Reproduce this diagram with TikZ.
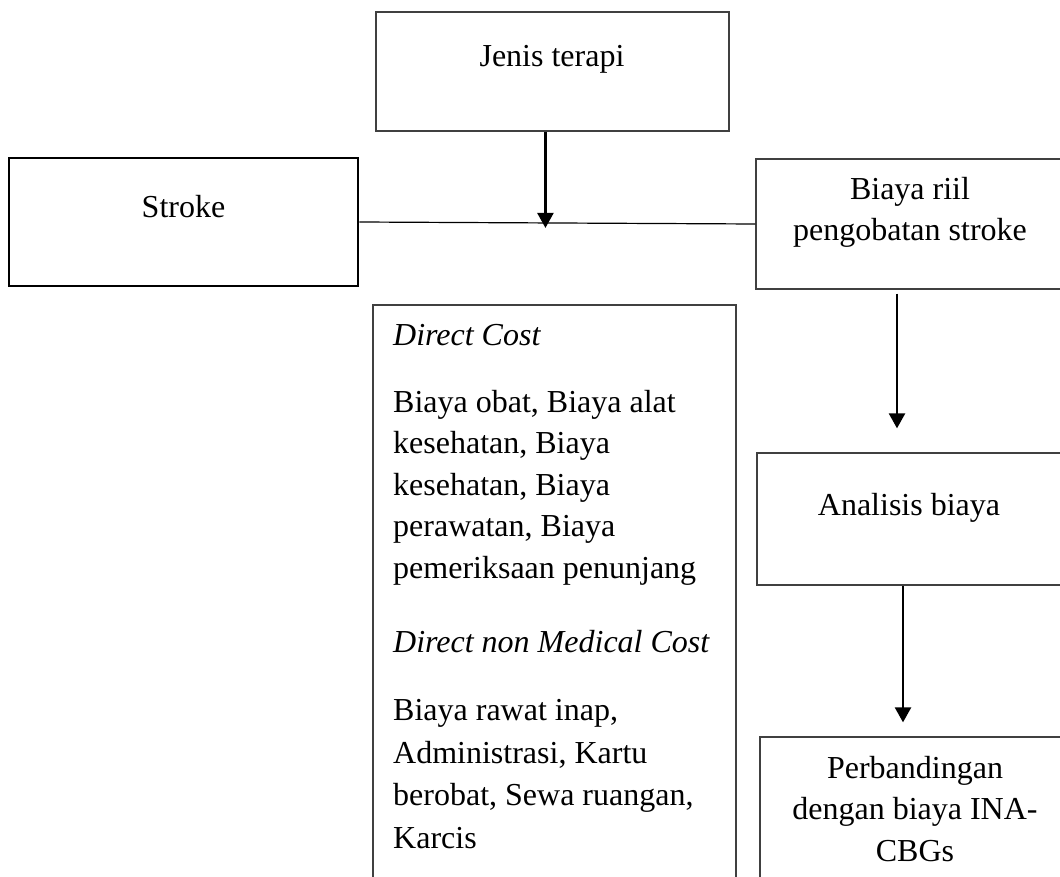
\documentclass[tikz,border=0pt]{standalone}
\usepackage{fontspec}
\setmainfont{Liberation Serif}
\usetikzlibrary{positioning, arrows.meta, calc}

\begin{document}
\begin{tikzpicture}[x=1pt, y=-1pt, >={Triangle[width=16pt,length=15pt]},
    box/.style={draw=black!75, line width=1.3pt, inner sep=0pt},
    txt/.style={font=\fontsize{32}{41.5}\selectfont, inner sep=0pt},
    arr/.style={->, line width=2.4pt}]
  \useasboundingbox (0,0) rectangle (1060,877);
  \clip (0,0) rectangle (1060,877);

  % kotak
  \node[box, draw=black, line width=2.6pt, minimum width=349pt, minimum height=128pt] (stroke) at (183.5,222) {};
  \node[box, minimum width=353pt, minimum height=119pt] (jenis) at (552.5,71.5) {};
  \node[box, minimum width=308pt, minimum height=130pt] (riil) at (910,224) {};
  \node[box, minimum width=304pt, minimum height=132pt] (analisis) at (909,519) {};
  \node[box, minimum width=310pt, minimum height=180pt] (banding) at (915,827) {};
  \node[box, minimum width=363pt, minimum height=620pt] (direct) at (554.5,615) {};

  % teks
  \node[txt, anchor=base] (jenis-t) at (552,67) {Jenis terapi};
  \node[txt, anchor=base] (stroke-t) at (183.5,218) {Stroke};
  \node[txt, anchor=north, align=center] (riil-t) at (910,177) {Biaya riil\\pengobatan stroke};
  \node[txt, anchor=base] (analisis-t) at (909,515) {Analisis biaya};
  \node[txt, anchor=north, align=center] (banding-t) at (915,756) {Perbandingan\\dengan biaya INA-\\CBGs};
  \node[txt, anchor=north west, align=left] (direct-t) at (393,324) {\textit{Direct Cost}\\[25.5pt]
    Biaya obat, Biaya alat\\
    kesehatan, Biaya\\
    kesehatan, Biaya\\
    perawatan, Biaya\\
    pemeriksaan penunjang\\[32.5pt]
    \textit{Direct non Medical Cost}\\[26.5pt]
    Biaya rawat inap,\\[1.2pt]
    Administrasi, Kartu\\[1.2pt]
    berobat, Sewa ruangan,\\[1.2pt]
    Karcis};

  % garis dan panah
  \coordinate (meet) at ($(stroke.east)!0.47!(riil.west)$);
  \draw[line width=1.2pt] (stroke.east) -- (riil.west);
  \draw[arr, shorten >=-5pt] (jenis.south -| meet) -- (meet);
  \draw[arr, shorten <=4pt, shorten >=24pt] ([xshift=-13pt]riil.south) -- ([xshift=-13pt]riil.south |- analisis.north);
  \draw[arr, shorten >=14pt] ([xshift=-6pt]analisis.south) -- ([xshift=-6pt]analisis.south |- banding.north);
\end{tikzpicture}
\end{document}
